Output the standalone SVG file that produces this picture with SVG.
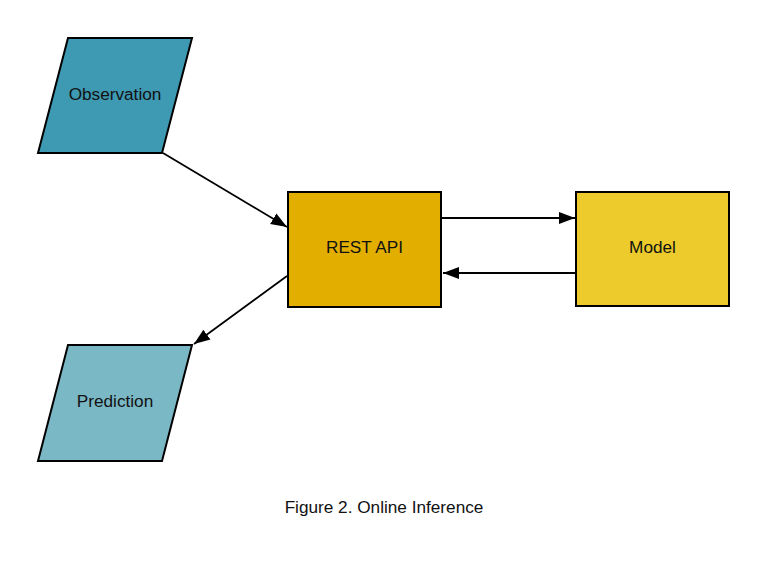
<svg xmlns="http://www.w3.org/2000/svg" width="768" height="576" viewBox="0 0 768 576">
<style>
.shape{stroke:#000;stroke-width:2}
.lbl{font-family:"Liberation Sans",Arial,sans-serif;font-size:17.2px;fill:#111;text-anchor:middle;dominant-baseline:central}
.edge{stroke:#000;stroke-width:1.8;fill:none}
</style>
<defs>
<marker id="ah" viewBox="0 0 10 10" refX="10" refY="5" markerWidth="16" markerHeight="16" markerUnits="userSpaceOnUse" orient="auto">
<path d="M0,1.2 L10,5 L0,8.8 Z" fill="#000"/>
</marker>
</defs>
<rect width="768" height="576" fill="#fff"/>
<g id="connectors">
<line class="edge" x1="163" y1="153" x2="287" y2="227" marker-end="url(#ah)"/>
<line class="edge" x1="442" y1="218" x2="575" y2="218" marker-end="url(#ah)"/>
<line class="edge" x1="576" y1="273" x2="443" y2="273" marker-end="url(#ah)"/>
<line class="edge" x1="287" y1="276" x2="194" y2="344" marker-end="url(#ah)"/>
</g>
<g id="observation">
<polygon class="shape" points="68,38 192,38 162,153 38,153" fill="#3E99B3"/>
<text class="lbl" x="115" y="94">Observation</text>
</g>
<g id="rest-api">
<rect class="shape" x="288" y="192" width="153" height="115" fill="#E2AF00"/>
<text class="lbl" x="364.5" y="247">REST API</text>
</g>
<g id="model">
<rect class="shape" x="576" y="192" width="153" height="114" fill="#EDCB2C"/>
<text class="lbl" x="652.5" y="247">Model</text>
</g>
<g id="prediction">
<polygon class="shape" points="68,345 192,345 162,461 38,461" fill="#7BB8C6"/>
<text class="lbl" x="115" y="401">Prediction</text>
</g>
<text class="lbl" x="384" y="507">Figure 2. Online Inference</text>
</svg>
